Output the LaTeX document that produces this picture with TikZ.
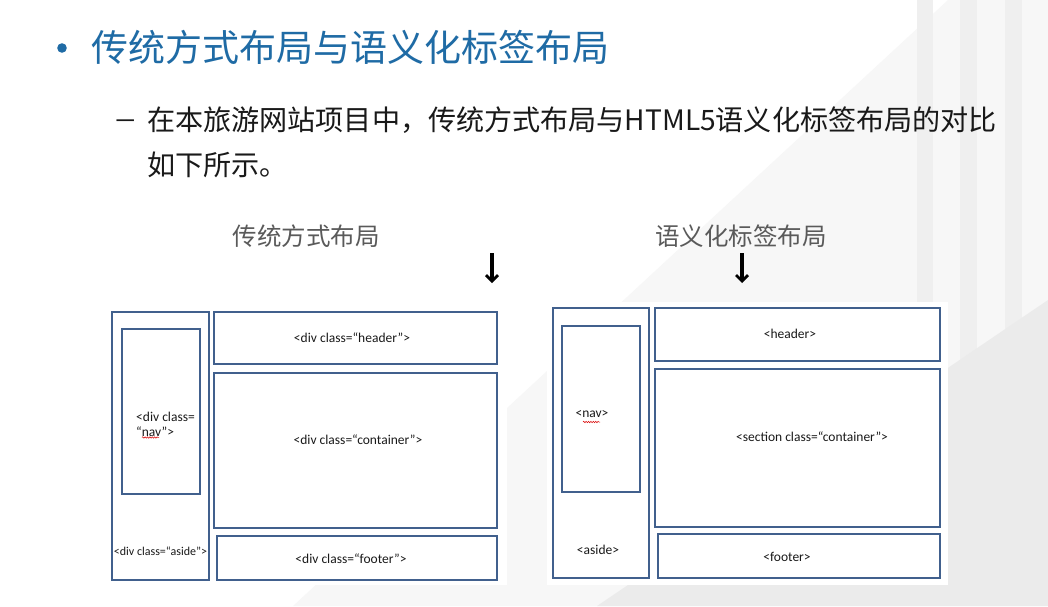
\documentclass[tikz,border=0pt]{standalone}
\usepackage{fontspec}
\usetikzlibrary{arrows.meta,decorations.pathmorphing}
\newfontfamily\zhfont{Noto Sans CJK SC}
\newfontfamily\boxfont{Carlito}
\definecolor{titleblue}{HTML}{1F6BA5}
\definecolor{labelgrey}{HTML}{5A5A5A}
\definecolor{boxline}{HTML}{41608D}
\definecolor{bgA}{HTML}{F7F7F7}
\definecolor{bgB}{HTML}{EFEFEF}
\definecolor{bgC}{HTML}{EBEBEB}
\tikzset{
  box/.style={draw=boxline, line width=1.6pt, fill=white, inner sep=0pt, outer sep=0pt, anchor=north west},
  tag/.style={font=\boxfont\fontsize{13.5}{15}\selectfont, inner sep=0pt, text=black!90},
  headline/.style={font=\zhfont\fontsize{37}{44}\selectfont, text=titleblue, anchor=west, inner sep=0pt},
  bodyline/.style={font=\zhfont\fontsize{28.1}{33}\selectfont, text=black!90, anchor=west, inner sep=0pt},
  caption/.style={font=\zhfont\fontsize{24.5}{29}\selectfont, text=labelgrey, inner sep=0pt},
  downarrow/.style={line width=3.4pt, -{Straight Barb[length=6pt,width=12pt,line width=2.8pt]}},
  spell/.style={red!85!black, line width=0.5pt, decorate, decoration={snake, amplitude=0.7pt, segment length=2.4pt}}
}
\begin{document}
\begin{tikzpicture}[x=1pt,y=-1pt]
% page and soft background shapes
\fill[white] (0,0) rectangle (1048,606);
\useasboundingbox (0,0) rectangle (1048,606);
\fill[bgA] (293,606) -- (948,0) -- (1048,0) -- (1048,606) -- cycle;
\fill[bgB] (917,0) rectangle (933,606);
\fill[bgB] (960,0) rectangle (977,606);
\fill[bgB] (1005,0) rectangle (1022,606);
\fill[bgC] (597,606) -- (1048,300) -- (1048,606) -- cycle;
% white panels behind the two layouts
\fill[white] (104,300) rectangle (507,585);
\fill[white] (547,302) rectangle (948,585);

% heading and text
\fill[titleblue] (62,48) circle (4.8);
\node[headline] (title) at (91,47) {传统方式布局与语义化标签布局};
\node[font=\boxfont\fontsize{28}{33}\selectfont, inner sep=0pt, anchor=base west, text=black!90] (dash) at (113,128.5) {\scalebox{1.75}[1]{–}};
\node[bodyline] (line1) at (147,120) {在本旅游网站项目中，传统方式布局与HTML5语义化标签布局的对比};
\node[bodyline] (line2) at (147,165) {如下所示。};

% captions and arrows
\node[caption] (capL) at (306,236) {传统方式布局};
\node[caption] (capR) at (741,236) {语义化标签布局};
\coordinate (aL1) at (492,253);
\coordinate (aL2) at (492,283);
\coordinate (aR1) at (742,253);
\coordinate (aR2) at (742,283);
\draw[downarrow] (aL1) -- (aL2);
\draw[downarrow] (aR1) -- (aR2);

% traditional div layout
\node[box, minimum width=97, minimum height=268] (laside) at (112,312) {};
\node[box, minimum width=78, minimum height=165] (lnav) at (122,329) {};
\node[box, minimum width=283, minimum height=52] (lheader) at (214,312) {};
\node[box, minimum width=283, minimum height=155] (lcontainer) at (214,373) {};
\node[box, minimum width=280, minimum height=44] (lfooter) at (217,536) {};
\node[tag, anchor=west, align=left] (lnavtxt) at (136,424.5) {<div class=\\“nav”>};
\draw[spell] (142,437.5) -- (159,437.5);
\node[tag] (lheadtxt) at (352,338) {<div class=“header”>};
\node[tag] (lconttxt) at (358,440) {<div class=“container”>};
\node[tag, font=\boxfont\fontsize{12}{14}\selectfont] (lasidetxt) at (160.5,551) {<div class=“aside”>};
\node[tag] (lfoottxt) at (351,559) {<div class=“footer”>};

% semantic tag layout
\node[box, minimum width=96, minimum height=270] (raside) at (553,308) {};
\node[box, minimum width=78, minimum height=166] (rnav) at (562,326) {};
\node[box, minimum width=285, minimum height=53] (rheader) at (655,308) {};
\node[box, minimum width=285, minimum height=158] (rsection) at (655,369) {};
\node[box, minimum width=282, minimum height=44] (rfooter) at (658,534) {};
\node[tag] (rnavtxt) at (592,414) {<nav>};
\draw[spell] (583,422) -- (600,422);
\node[tag] (rheadtxt) at (790,334) {<header>};
\node[tag] (rsecttxt) at (812,437) {<section class=“container”>};
\node[tag] (rasidetxt) at (598,550) {<aside>};
\node[tag] (rfoottxt) at (787,557) {<footer>};
\end{tikzpicture}
\end{document}
